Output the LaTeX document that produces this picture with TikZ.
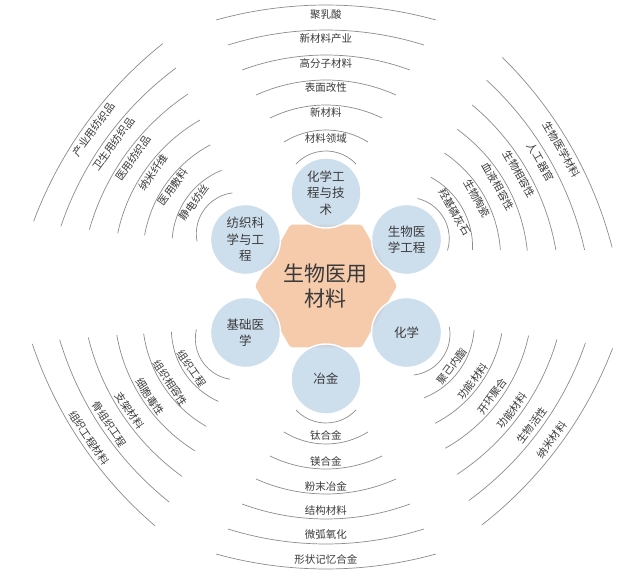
\documentclass[tikz,border=0pt]{standalone}
\usepackage{fontspec}
\setmainfont{Noto Sans CJK SC}
\usetikzlibrary{calc}
\definecolor{peach}{HTML}{F6CBAB}
\definecolor{bub}{HTML}{C3D7EA}
\definecolor{arcgray}{HTML}{8C8C8C}
\definecolor{txt}{HTML}{3A3A3A}
\tikzset{
  bubble/.style={circle, minimum size=70pt, inner sep=0pt, fill=bub, fill opacity=0.82, text opacity=1,
    draw=white, line width=1.4pt, align=center, font=\fontsize{12.5}{16.5}\selectfont, text=txt},
  corelabel/.style={align=center, font=\fontsize{21}{25}\selectfont, text=txt},
  arcline/.style={draw=arcgray, line width=0.7pt},
  lab/.style={inner sep=0pt, font=\fontsize{10.5}{12}\selectfont, text=txt}
}
\begin{document}
\begin{tikzpicture}[x=1pt,y=1pt]
\useasboundingbox (-326,-287) rectangle (314,286);
\fill[white] (-326,-287) rectangle (314,286);
% arcs and labels of the six groups: name / circle angle / axis angle / offset / text rotation / texts
\foreach \g/\c/\t/\o/\r/\list in {
  A/90/90/0/0/{材料领域,新材料,表面改性,高分子材料,新材料产业,聚乳酸},
  B/30/30/1/-60/{羟基磷灰石,生物陶瓷,血液相容性,生物相容性,人工器官,生物医学材料},
  C/-30/-36.5/2/53.5/{聚己内酯,功能材料,开环聚合,功能材料,生物活性,纳米材料},
  D/-90/-90/2/0/{钛合金,镁合金,粉末冶金,结构材料,微弧氧化,形状记忆合金},
  E/-150/-146/10/-56/{组织工程,组织相容性,细胞毒性,支架材料,骨组织工程,组织工程材料},
  F/150/144/9/54/{静电纺丝,医用敷料,纳米纤维,医用纺织品,卫生用纺织品,产业用纺织品}}{
  \foreach \a/\R/\p in {42/41.1/46.9, 63/79.5/31.9, 88/127.1/26.1, 113/170.8/24.2, 138/242.7/20.2, 163/327.6/17.4, 188/410.8/15.5}{
    \pgfmathsetmacro\d{\o+\a-\R}
    \draw[arcline] ($(\c:93)+(\t:\d)+(\t-\p:\R)$) arc[start angle=\t-\p, end angle=\t+\p, radius=\R];
  }
  \foreach \s [count=\k] in \list {
    \pgfmathsetmacro\dd{\o + (\k==1 ? 54.5 : 56+24.5*(\k-1))}
    \node[lab, rotate=\r] (lab\g\k) at ($(\c:93)+(\t:\dd)$) {\s};
  }
}
% core
\fill[peach, rounded corners=2pt] (0:71) -- (60:71) -- (120:71) -- (180:71) -- (240:71) -- (300:71) -- cycle;
\node[bubble] (chemeng) at (90:93) {化学工\\程与技\\术};
\node[bubble] (bioeng) at (30:93) {生物医\\学工程};
\node[bubble] (chem) at (-30:93) {化学};
\node[bubble] (metal) at (-90:93) {冶金};
\node[bubble] (basicmed) at (-150:93) {基础医\\学};
\node[bubble] (textile) at (150:93) {纺织科\\学与工\\程};
\node[corelabel] (core) at (0,0) {生物医用\\材料};
\end{tikzpicture}
\end{document}
